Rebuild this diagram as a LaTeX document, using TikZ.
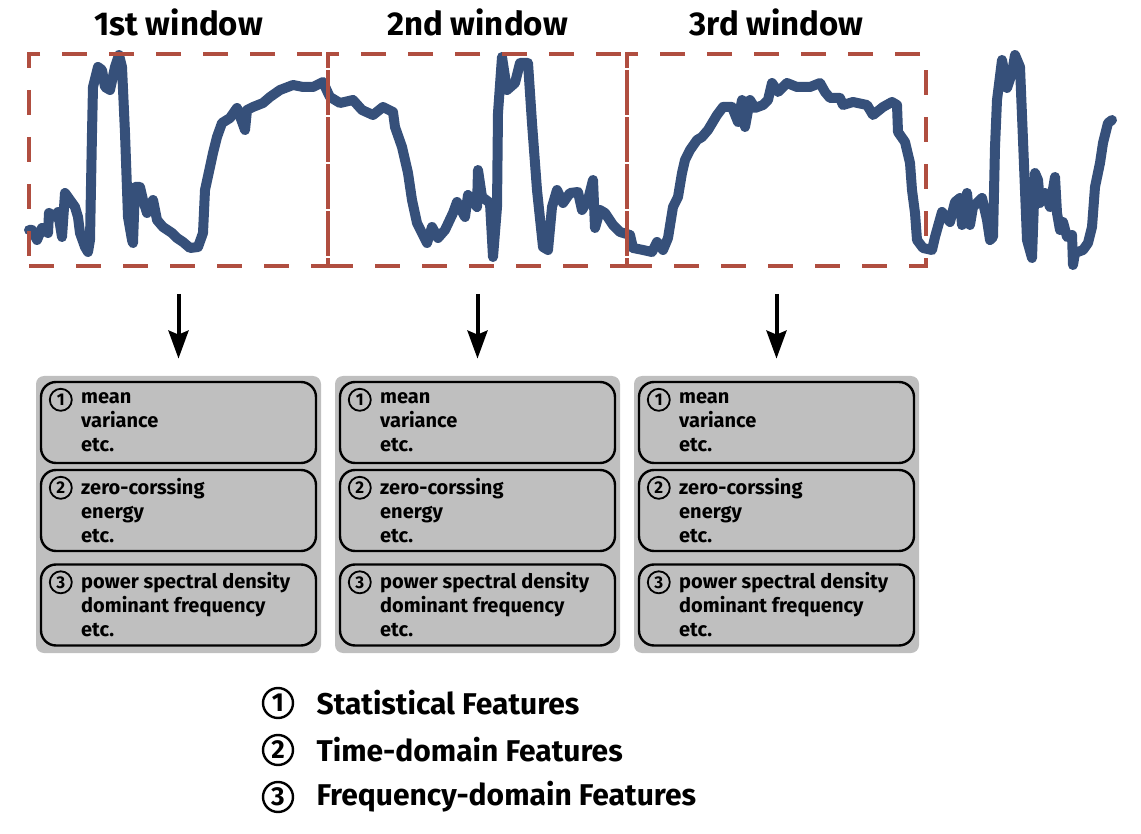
\documentclass[tikz,border=0pt]{standalone}
\usepackage{fontspec}
\setmainfont{Fira Sans}
\usetikzlibrary{arrows.meta, positioning}

\definecolor{sigblue}{HTML}{36507A}
\definecolor{winred}{HTML}{B04E40}
\definecolor{boxgray}{HTML}{BFBFBF}

\begin{document}
\begin{tikzpicture}[x=0.5pt, y=-0.5pt, >=Stealth, font=\bfseries,
    signal/.style={draw=sigblue, line width=5pt, line join=round, line cap=round},
    window/.style={draw=winred, line width=2pt, dash pattern=on 12.5pt off 11pt,
        minimum width=149.5pt, minimum height=106pt, inner sep=0pt},
    wintitle/.style={font=\fontsize{16.5}{19}\selectfont\bfseries, inner sep=0pt},
    outerbox/.style={fill=boxgray, rounded corners=4pt, minimum width=142.5pt,
        minimum height=138.5pt, inner sep=0pt},
    featrow/.style={draw, fill=boxgray, line width=1.2pt, rounded corners=7.5pt,
        minimum width=137.5pt, minimum height=40.5pt, inner sep=0pt},
    numcirc/.style={circle, draw, line width=0.9pt, minimum size=11pt, inner sep=0pt,
        font=\fontsize{8.5}{8.5}\selectfont\bfseries},
    feattext/.style={align=left, inner sep=0pt, font=\fontsize{10}{12}\selectfont\bfseries},
    flowarrow/.style={-{Stealth[length=14pt, width=10pt, inset=2pt]}, line width=2pt,
        shorten <=13pt, shorten >=8.5pt},
    legcirc/.style={circle, draw, line width=1.2pt, minimum size=15pt, inner sep=0pt,
        font=\fontsize{13}{13}\selectfont\bfseries},
    legtext/.style={inner sep=0pt, font=\fontsize{15}{17}\selectfont\bfseries}
]
\useasboundingbox (0,0) rectangle (1141,834);

% Sensor signal
\draw[signal] plot coordinates {
    (29,230) (32,230) (37,240) (42,228) (48,233) (49,213) (55,217) (58,212) (62,237)
    (65,193) (70,200) (75,207) (78,217) (80,233) (85,247) (88,252) (90,240) (92,133)
    (93,87) (98,67) (102,70) (105,87) (110,90) (115,67) (119,55) (122,67) (125,133)
    (128,217) (132,240) (133,243) (135,187) (140,187) (143,200) (147,213) (153,200)
    (157,220) (163,227) (172,233) (177,238) (183,242) (190,248) (198,247) (203,233)
    (205,190) (210,167) (213,153) (217,137) (222,123) (230,118) (237,108) (245,130)
    (247,110) (253,107) (263,103) (270,97) (280,90) (293,85) (303,87) (313,87) (323,82)
    (328,93) (330,97) (340,103) (353,100) (362,110) (373,115) (383,107) (393,112)
    (395,127) (402,147) (408,173) (412,200) (417,223) (427,243) (432,227) (438,238)
    (445,230) (453,213) (457,202) (465,217) (468,195) (477,207) (478,170) (482,197)
    (490,203) (493,257) (497,207) (498,113) (502,57) (507,90) (515,83) (520,63)
    (528,63) (532,123) (537,190) (543,247) (548,250) (552,207) (557,190) (563,203)
    (570,193) (578,192) (582,210) (588,200) (593,180) (595,228) (600,210) (605,213)
    (613,225) (620,232) (630,235) (633,248) (643,250) (652,252) (657,242) (663,250)
    (668,238) (673,207) (678,197) (682,173) (685,160) (690,150) (697,140) (702,137)
    (708,130) (717,115) (723,107) (732,107) (738,122) (742,100) (745,127) (750,100)
    (755,108) (763,105) (768,100) (772,83) (778,92) (787,83) (797,87) (810,87)
    (820,83) (825,92) (830,98) (840,98) (843,105) (853,102) (867,105) (873,115)
    (883,107) (892,102) (897,105) (898,132) (905,142) (910,163) (912,190) (915,213)
    (917,240) (923,248) (932,250) (935,237) (942,212) (950,222) (955,202) (960,198)
    (962,225) (967,193) (970,225) (973,207) (982,198) (987,220) (990,240) (993,237)
    (995,147) (997,100) (1002,60) (1007,88) (1012,73) (1015,55) (1020,67) (1023,140)
    (1027,240) (1032,258) (1035,173) (1038,180) (1040,203) (1045,193) (1050,207)
    (1055,177) (1057,213) (1060,230) (1063,222) (1067,237) (1072,235) (1073,265)
    (1075,253) (1083,250) (1088,243) (1092,227) (1095,187) (1100,163) (1103,143)
    (1108,123) (1112,120)
};

% Windows, arrows and feature boxes
\foreach \i/\name in {0/1st, 1/2nd, 2/3rd} {
    \pgfmathsetmacro\cx{178.5+299*\i}
    \node[window] (win\i) at (\cx,160) {};
    \node[wintitle, above=8pt of win\i] (title\i) {\name{} window};
    \node[outerbox] (feat\i) at (\cx,514.5) {};
    \draw[flowarrow] (win\i.south) -- (feat\i.north);
    \foreach \j/\yy/\txt in {1/422.5/{mean\\variance\\etc.},
                             2/510.5/{zero-corssing\\energy\\etc.},
                             3/605/{power spectral density\\dominant frequency\\etc.}} {
        \node[featrow] (row\i\j) at (\cx,\yy) {};
        \node[numcirc] (num\i\j) at ([xshift=10.5pt, yshift=-9.5pt]row\i\j.north west) {\j};
        \node[feattext, anchor=west] (txt\i\j) at ([xshift=20.5pt]row\i\j.west) {\txt};
    }
}

% Legend
\foreach \k/\yy/\txt in {1/703/Statistical Features, 2/750/Time-domain Features,
                         3/797/Frequency-domain Features} {
    \node[legcirc] (leg\k) at (278,\yy) {\k};
    \node[legtext, right=11pt of leg\k] (legt\k) {\txt};
}
\end{tikzpicture}
\end{document}
